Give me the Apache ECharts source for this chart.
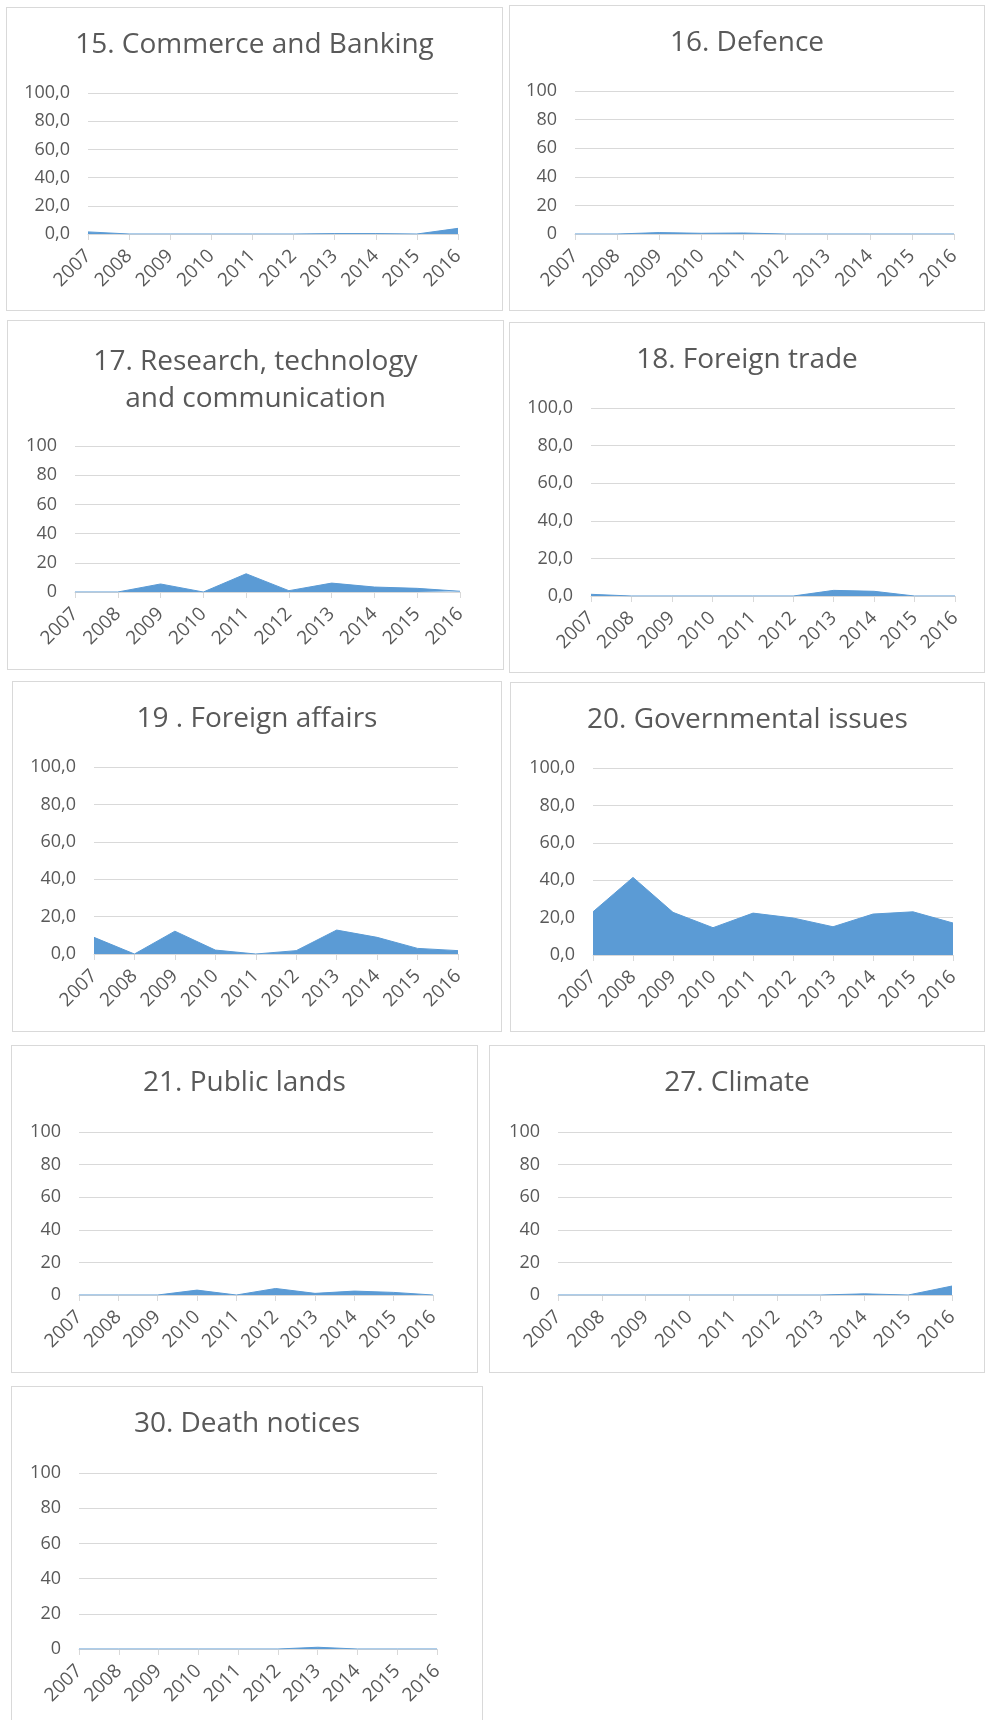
<!DOCTYPE html>
<html>
<head>
<meta charset="utf-8">
<script src="https://cdn.jsdelivr.net/npm/echarts@6/dist/echarts.min.js"></script>
<style>
  html, body { margin: 0; padding: 0; background: #ffffff; }
  body { width: 986px; height: 1720px; position: relative; overflow: hidden; }
  .panel { position: absolute; box-sizing: border-box; border: 1px solid #d9d9d9; background: #fff; }
</style>
</head>
<body>
<div id="p1" class="panel" style="left:6px;top:7px;width:497px;height:304px;"></div>
<div id="p2" class="panel" style="left:509px;top:5px;width:476px;height:306px;"></div>
<div id="p3" class="panel" style="left:7px;top:320px;width:497px;height:350px;"></div>
<div id="p4" class="panel" style="left:509px;top:322px;width:476px;height:351px;"></div>
<div id="p5" class="panel" style="left:12px;top:681px;width:490px;height:351px;"></div>
<div id="p6" class="panel" style="left:510px;top:682px;width:475px;height:350px;"></div>
<div id="p7" class="panel" style="left:11px;top:1045px;width:467px;height:328px;"></div>
<div id="p8" class="panel" style="left:489px;top:1045px;width:496px;height:328px;"></div>
<div id="p9" class="panel" style="left:11px;top:1386px;width:472px;height:345px;"></div>
<script>
// ---- Data ----
const years = ['2007','2008','2009','2010','2011','2012','2013','2014','2015','2016'];
const yTicks = [0, 20, 40, 60, 80, 100];

const commerceBanking = [1.5, 0, 0, 0, 0, 0, 0.3, 0.3, 0, 4.0];
const defence         = [0, 0, 1.0, 0.5, 0.7, 0, 0, 0, 0, 0];
const researchTech    = [0, 0, 5.5, 0, 12.5, 0.9, 6.1, 3.4, 2.5, 0.5];
const foreignTrade    = [0.9, 0, 0, 0, 0, 0, 3.0, 2.5, 0, 0];
const foreignAffairs  = [8.9, 0, 12.2, 2.1, 0, 1.8, 12.8, 8.9, 3.0, 1.8];
const governmental    = [23.1, 41.5, 22.8, 14.6, 22.4, 19.8, 15.1, 21.9, 23.1, 17.1];
const publicLands     = [0, 0, 0, 3.0, 0, 4.0, 1.0, 2.4, 1.6, 0];
const climate         = [0, 0, 0, 0, 0, 0, 0, 0.7, 0, 5.5];
const deathNotices    = [0, 0, 0, 0, 0, 0, 1.0, 0, 0, 0];

const panels = [
  { id: 'p1', title: '15. Commerce and Banking', data: commerceBanking, dec: true,
    grid: { left: 81, right: 44, top: 85, bottom: 76 }, titleTop: 14 },
  { id: 'p2', title: '16. Defence', data: defence, dec: false,
    grid: { left: 65, right: 30, top: 85, bottom: 76 }, titleTop: 14 },
  { id: 'p3', title: '17. Research, technology\nand communication', data: researchTech, dec: false,
    grid: { left: 67, right: 43, top: 125, bottom: 77 }, titleTop: 18 },
  { id: 'p4', title: '18. Foreign trade', data: foreignTrade, dec: true,
    grid: { left: 81, right: 29, top: 85, bottom: 76 }, titleTop: 14 },
  { id: 'p5', title: '19 . Foreign affairs', data: foreignAffairs, dec: true,
    grid: { left: 81, right: 43, top: 85, bottom: 77 }, titleTop: 14 },
  { id: 'p6', title: '20. Governmental issues', data: governmental, dec: true,
    grid: { left: 82, right: 31, top: 85, bottom: 76 }, titleTop: 14 },
  { id: 'p7', title: '21. Public lands', data: publicLands, dec: false,
    grid: { left: 67, right: 44, top: 86, bottom: 77 }, titleTop: 14 },
  { id: 'p8', title: '27. Climate', data: climate, dec: false,
    grid: { left: 68, right: 32, top: 86, bottom: 77 }, titleTop: 14 },
  { id: 'p9', title: '30. Death notices', data: deathNotices, dec: false,
    grid: { left: 67, right: 45, top: 86, bottom: 81 }, titleTop: 14 }
];

const FONT = '"Open Sans", "Noto Sans", sans-serif';
const TXT = '#595959';
const GRIDC = '#d9d9d9';
const FILL = '#5b9bd5';

panels.forEach(p => {
  const chart = echarts.init(document.getElementById(p.id), null, { renderer: 'canvas' });
  chart.setOption({
    animation: false,
    title: {
      text: p.title,
      left: 'center',
      top: p.titleTop,
      textStyle: { fontFamily: FONT, fontSize: 28, fontWeight: 'normal', color: TXT, lineHeight: 37 }
    },
    grid: p.grid,
    xAxis: {
      type: 'category',
      data: years,
      boundaryGap: false,
      axisLine: { show: true, lineStyle: { color: GRIDC, width: 1 } },
      axisTick: { show: true, length: 6, lineStyle: { color: GRIDC } },
      axisLabel: { rotate: 45, margin: 19, fontFamily: FONT, fontSize: 19, color: TXT, interval: 0 },
      splitLine: { show: false }
    },
    yAxis: {
      type: 'value',
      min: 0, max: 100, interval: 20,
      axisLine: { show: false },
      axisTick: { show: false },
      axisLabel: {
        margin: 18, fontFamily: FONT, fontSize: 18, color: TXT,
        formatter: v => p.dec ? v.toFixed(1).replace('.', ',') : String(v)
      },
      splitLine: { show: true, lineStyle: { color: GRIDC, width: 1 } }
    },
    series: [{
      type: 'line',
      data: p.data,
      showSymbol: false,
      symbol: 'none',
      lineStyle: { color: FILL, width: 1 },
      areaStyle: { color: FILL, opacity: 1 },
      z: 1
    }]
  });
});
</script>
</body>
</html>
